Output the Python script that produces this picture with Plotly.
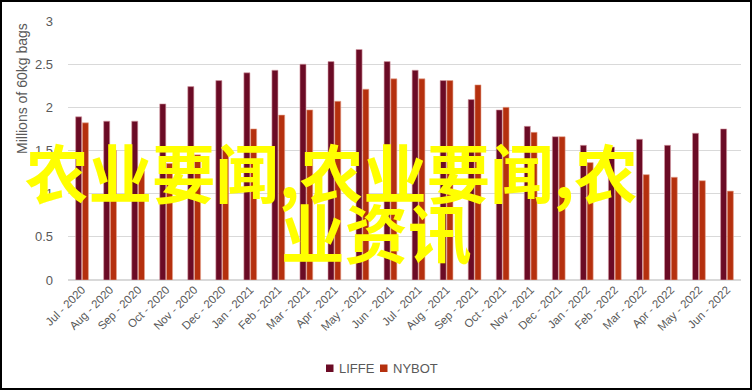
import plotly.graph_objects as go

months = ["Jul - 2020", "Aug - 2020", "Sep - 2020", "Oct - 2020", "Nov - 2020", "Dec - 2020",
          "Jan - 2021", "Feb - 2021", "Mar - 2021", "Apr - 2021", "May - 2021", "Jun - 2021",
          "Jul - 2021", "Aug - 2021", "Sep - 2021", "Oct - 2021", "Nov - 2021", "Dec - 2021",
          "Jan - 2022", "Feb - 2022", "Mar - 2022", "Apr - 2022", "May - 2022", "Jun - 2022"]
liffe = [1.89, 1.84, 1.84, 2.04, 2.24, 2.31, 2.40, 2.43, 2.50, 2.53, 2.67, 2.53,
         2.43, 2.31, 2.09, 1.97, 1.78, 1.66, 1.56, 1.54, 1.63, 1.56, 1.70, 1.75]
nybot = [1.82, 1.50, 1.26, 1.35, 1.45, 1.51, 1.75, 1.91, 1.97, 2.07, 2.21, 2.33,
         2.33, 2.31, 2.26, 2.00, 1.71, 1.66, 1.36, 1.10, 1.22, 1.19, 1.15, 1.03]
series_names = ["LIFFE", "NYBOT"]
series_colors = ["#6b0b25", "#b5300e"]
y_ticks = [0, 0.5, 1, 1.5, 2, 2.5, 3]
y_tick_labels = ["0", "0.5", "1", "1.5", "2", "2.5", "3"]
y_title = "Millions of 60kg bags"
overlay_line1 = "农业要闻,农业要闻,农"
overlay_line2 = "业资讯"

W, H = 752, 390
L, R, T, B = 68, 11, 21, 110
pw, ph = W - L - R, H - T - B
GRAY = "#595959"

def px_x(p):
    return (p - L) / pw

def px_y(p):
    return (H - B - p) / ph

fig = go.Figure()
for name, vals, col, edge in zip(series_names, [liffe, nybot], series_colors, ["#d8a0a8", "#e6a58f"]):
    fig.add_trace(go.Bar(name=name, x=months, y=vals,
                         marker=dict(color=col, line=dict(color=edge, width=0.6))))

shapes = [dict(type="rect", xref="paper", yref="paper",
               x0=px_x(1), x1=px_x(W - 1), y0=px_y(H - 1), y1=px_y(1),
               line=dict(color="black", width=2), fillcolor="rgba(0,0,0,0)", layer="above")]
annotations = [
    dict(text=y_title, xref="paper", yref="paper", x=px_x(22), y=px_y(89),
         xanchor="center", yanchor="middle", textangle=-90, showarrow=False,
         font=dict(size=14, color=GRAY)),
]

# legend built as small squares + labels (matches the compact reference legend)
legend_sq_x = [326, 380]
for sx, name, col in zip(legend_sq_x, series_names, series_colors):
    shapes.append(dict(type="rect", xref="paper", yref="paper",
                       x0=px_x(sx), x1=px_x(sx + 7.5), y0=px_y(372), y1=px_y(364.5),
                       line=dict(width=0), fillcolor=col))
    annotations.append(dict(text=name, xref="paper", yref="paper", x=px_x(sx + 11), y=px_y(368),
                            xanchor="left", yanchor="middle", showarrow=False,
                            font=dict(size=13, color=GRAY)))

annotations += [
    dict(text=overlay_line1, xref="paper", yref="paper", x=px_x(23), y=px_y(170),
         xanchor="left", yanchor="middle", showarrow=False,
         font=dict(family="Noto Sans CJK SC", size=63.5, color="#ffff00", weight="bold")),
    dict(text=overlay_line2, xref="paper", yref="paper", x=px_x(279), y=px_y(230),
         xanchor="left", yanchor="middle", showarrow=False,
         font=dict(family="Noto Sans CJK SC", size=63.5, color="#ffff00", weight="bold")),
]

fig.update_layout(
    width=W, height=H, autosize=False,
    margin=dict(l=L, r=R, t=T, b=B, autoexpand=False),
    paper_bgcolor="white", plot_bgcolor="white",
    barmode="group", bargap=0.52, bargroupgap=0.1,
    font=dict(family="Liberation Sans, Arial, sans-serif", color=GRAY, size=11),
    showlegend=False,
    xaxis=dict(tickangle=-45, tickfont=dict(size=11.5, color=GRAY), showgrid=False,
               showline=False, ticks="", automargin=False),
    yaxis=dict(range=[0, 3], tickvals=y_ticks, ticktext=y_tick_labels, showgrid=True,
               gridcolor="#d9d9d9", gridwidth=1.3, zeroline=True, zerolinecolor="#d9d9d9",
               zerolinewidth=1.5, tickfont=dict(size=13, color=GRAY), ticks="",
               ticklabelstandoff=14, automargin=False),
    shapes=shapes,
    annotations=annotations,
)

fig.write_html("out.html",
               config={"displayModeBar": False, "responsive": False},
               post_script="document.body.style.margin='0';document.body.style.overflow='hidden';")
